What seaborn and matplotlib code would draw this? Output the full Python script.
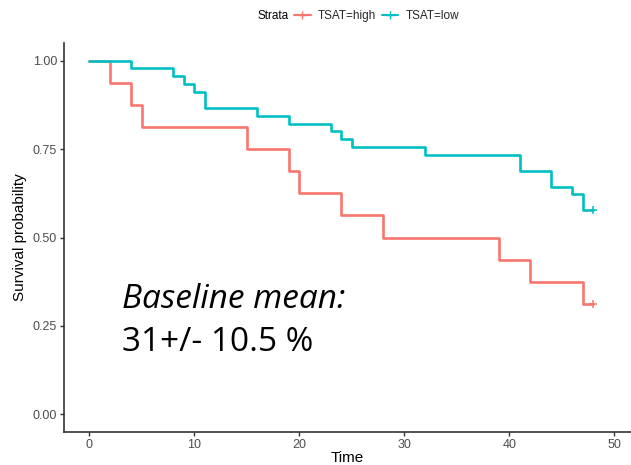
import matplotlib
matplotlib.use("Agg")
import matplotlib.pyplot as plt
from matplotlib.lines import Line2D
import numpy as np
import pandas as pd
import seaborn as sns

# Kaplan-Meier step estimates per stratum (time, survival probability)
high_time = [0, 2, 4, 5, 15, 19, 20, 24, 28, 39, 42, 47, 48]
high_surv = [1.0, 0.9375, 0.875, 0.8125, 0.75, 0.6875, 0.625, 0.5625,
             0.5, 0.4375, 0.375, 0.3125, 0.3125]
low_time = [0, 4, 8, 9, 10, 11, 16, 19, 23, 24, 25, 32, 41, 44, 46, 47, 48]
low_surv = [1.0, 0.978, 0.956, 0.933, 0.911, 0.867, 0.844, 0.822, 0.800,
            0.778, 0.756, 0.733, 0.689, 0.644, 0.622, 0.578, 0.578]
# censored observations
high_cens_time = [48]
high_cens_surv = [0.3125]
low_cens_time = [48]
low_cens_surv = [0.578]

strata = ["TSAT=high", "TSAT=low"]
colors = {"TSAT=high": "#F8766D", "TSAT=low": "#00BFC4"}
x_ticks = [0, 10, 20, 30, 40, 50]
y_ticks = [0.0, 0.25, 0.50, 0.75, 1.0]
y_tick_labels = ["0.00", "0.25", "0.50", "0.75", "1.00"]

curves = pd.concat([
    pd.DataFrame({"Time": high_time, "surv": high_surv, "Strata": strata[0]}),
    pd.DataFrame({"Time": low_time, "surv": low_surv, "Strata": strata[1]}),
])
censored = pd.concat([
    pd.DataFrame({"Time": high_cens_time, "surv": high_cens_surv, "Strata": strata[0]}),
    pd.DataFrame({"Time": low_cens_time, "surv": low_cens_surv, "Strata": strata[1]}),
])

sns.set_theme(style="white")
plt.rcParams["font.family"] = ["Liberation Sans", "DejaVu Sans"]

W, H = 631, 465
fig = plt.figure(figsize=(W / 100, H / 100), dpi=100)
ax = fig.add_axes([64 / W, 33 / H, 567 / W, 389 / H])

sns.lineplot(data=curves, x="Time", y="surv", hue="Strata", palette=colors,
             drawstyle="steps-post", linewidth=1.9, estimator=None,
             sort=False, legend=False, ax=ax)
for s in strata:
    sub = censored[censored["Strata"] == s]
    ax.plot(sub["Time"], sub["surv"], linestyle="none", marker="+",
            markersize=6, markeredgewidth=1.1, color=colors[s])

ax.set_xlim(-2.4, 51.6)
ax.set_ylim(-0.05, 1.05)
ax.set_xticks(x_ticks)
ax.set_yticks(y_ticks)
ax.set_yticklabels(y_tick_labels)

spine_col = "#333333"
for side in ["top", "right"]:
    ax.spines[side].set_visible(False)
for side in ["left", "bottom"]:
    ax.spines[side].set_color(spine_col)
    ax.spines[side].set_linewidth(1.2)
ax.tick_params(axis="both", which="major", direction="out", length=3,
               width=1.0, color=spine_col, labelsize=9,
               labelcolor="#4D4D4D", pad=2,
               bottom=True, left=True)

ax.set_xlabel("Time", fontsize=11, color="black", labelpad=0)
ax.set_ylabel("Survival probability", fontsize=11, color="black", labelpad=4)

# legend strip on top
fig.text(258 / W, 1 - 16 / H, "Strata", fontsize=8.5, color="black",
         va="center", ha="left")
handles = [Line2D([0], [0], color=colors[s], lw=1.5, marker="+",
                  markersize=6, markeredgewidth=1.0) for s in strata]
fig.legend(handles, strata, loc="center left",
           bbox_to_anchor=(294 / W, 1 - 16 / H), ncol=2, frameon=False,
           fontsize=8.5, handlelength=1.4, handletextpad=0.6,
           columnspacing=0.5, borderaxespad=0, borderpad=0)

# annotation
fig.text(122 / W, 1 - 308 / H, "Baseline mean:", fontsize=24,
         style="italic", family=["Open Sans", "DejaVu Sans"], color="black")
fig.text(122 / W, 1 - 351 / H, "31+/- 10.5 %", fontsize=24,
         family=["Open Sans", "DejaVu Sans"], color="black")

fig.savefig("out.png", dpi=100)
